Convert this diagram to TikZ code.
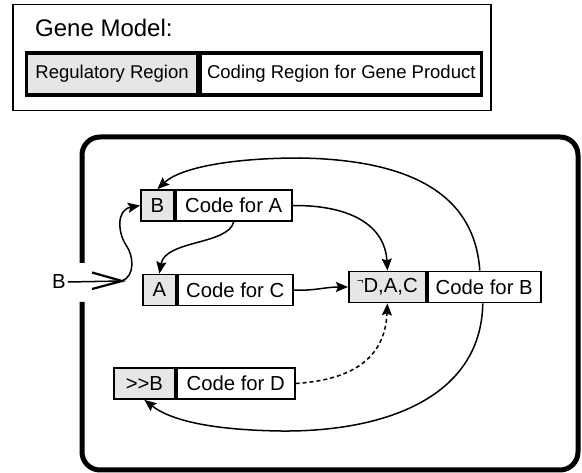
\documentclass[tikz,border=0pt]{standalone}
\usepackage{fontspec}
\setmainfont{Liberation Sans}
\usetikzlibrary{arrows.meta}
\definecolor{regfill}{RGB}{230,230,230}
\begin{document}
\begin{tikzpicture}[x=1pt,y=-1pt,
  cell/.style={draw, line width=1.8pt, inner sep=0pt, minimum height=31pt, anchor=west, font=\fontsize{20.3}{22}\selectfont},
  reg/.style={cell, fill=regfill},
  code/.style={cell, fill=white},
  modelcell/.style={draw, line width=3.2pt, inner sep=0pt, minimum height=42pt, anchor=west, font=\fontsize{18.5}{20}\selectfont},
  link/.style={line width=1.5pt, -{Stealth[length=12pt,width=10pt,inset=2pt]}},
  dashlink/.style={link, dash pattern=on 4pt off 3pt},
]
\useasboundingbox (0,0) rectangle (582,473);
\fill[white] (0,0) rectangle (582,473);

% legend
\node[draw, line width=1.5pt, minimum width=478pt, minimum height=106pt, anchor=north west, inner sep=0pt] (legend) at (12,4) {};
\node[anchor=west, inner sep=0pt, font=\fontsize{24}{26}\selectfont] (title) at (35,28) {Gene Model:};
\node[modelcell, fill=regfill, minimum width=171pt] (mreg) at (25,74) {Regulatory Region};
\node[modelcell, fill=white, minimum width=281pt] (mcode) at (mreg.east) {Coding Region for Gene Product};

% big frame with gap
\draw[line width=5pt, rounded corners=18pt] (82,263) -- (82,137) -- (578,137) -- (578,470) -- (82,470) -- (82,302);

% genes
\node[reg, minimum width=33pt] (Breg) at (140,205.5) {B};
\node[code, minimum width=116pt] (Bcode) at (Breg.east) {Code for A};
\node[reg, minimum width=33pt] (Areg) at (142,290) {A};
\node[code, minimum width=115pt] (Acode) at (Areg.east) {Code for C};
\node[reg, minimum width=77pt] (Dreg) at (348,287) {\raisebox{0.42em}{\fontsize{11}{11}\selectfont ¬}D,A,C};
\node[code, minimum width=113pt] (Dcode) at (Dreg.east) {Code for B};
\node[reg, minimum width=61pt] (Xreg) at (113,383.5) {\mbox{>}\mbox{>}B};
\node[code, minimum width=118pt] (Xcode) at (Xreg.east) {Code for D};

% input B
\node[inner sep=2pt, font=\fontsize{20.3}{22}\selectfont] (Bin) at (59,282) {B};
\coordinate (tip) at (122,281);
\draw[line width=1.5pt] (Bin.east) -- (tip);
\draw[line width=2.2pt, line join=miter] (92,272.5) -- (tip) -- (92,289);
\draw[link] (tip) .. controls (135,276) and (134,256) .. (126,245)
  .. controls (118,233) and (116,210) .. (Breg.west);

% connectors
\draw[link] (Bcode.east) .. controls (350,205) and (385,225) .. (Dreg.north);
\draw[link] (Acode.east) .. controls (315,291) and (325,287) .. (Dreg.west);
\draw[link] (Bcode.south) .. controls (228,245) and (165,240) .. (Areg.north);
\draw[link] ([xshift=53pt]Dcode.north west) .. controls (475,200) and (420,160) .. (300,158)
  .. controls (230,158) and (180,168) .. (Breg.north);
\draw[link] ([xshift=56pt]Dcode.south west) .. controls (481,400) and (380,432) .. (281,431)
  .. controls (210,430) and (170,420) .. (Xreg.south);
\draw[dashlink] (Xcode.east) .. controls (350,380) and (385,360) .. (Dreg.south);
\end{tikzpicture}
\end{document}
